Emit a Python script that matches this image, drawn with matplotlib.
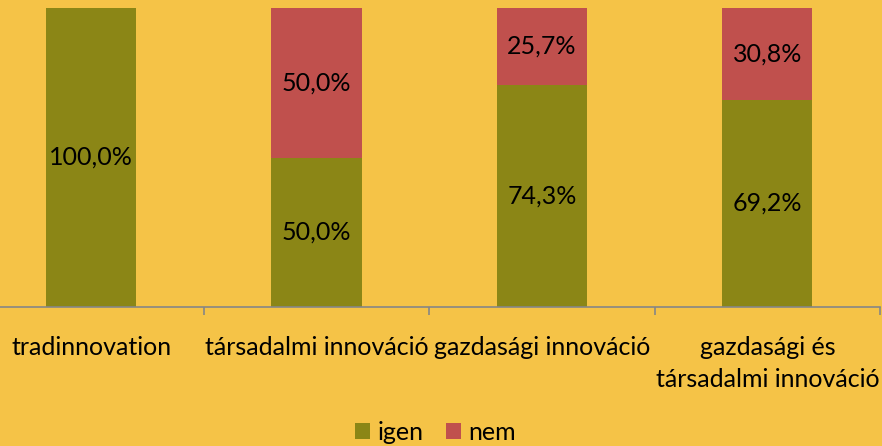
import matplotlib.pyplot as plt

categories = ["tradinnovation", "társadalmi innováció", "gazdasági innováció",
              "gazdasági és\ntársadalmi innováció"]
igen = [100.0, 50.0, 74.3, 69.2]
nem = [0.0, 50.0, 25.7, 30.8]

bg = "#F5C347"
c_igen = "#8B8616"
c_nem = "#C0504D"

plt.rcParams['font.family'] = ['Lato', 'DejaVu Sans']
fs = 18

fig = plt.figure(figsize=(8.82, 4.46), dpi=100, facecolor=bg)
ax = fig.add_axes([-21.5 / 882, (446 - 307) / 446, 901.5 / 882, 299 / 446])
ax.set_facecolor(bg)

x = list(range(len(categories)))
b1 = ax.bar(x, igen, width=0.4, color=c_igen, label="igen")
b2 = ax.bar(x, nem, width=0.4, bottom=igen, color=c_nem, label="nem")

def fmt(v):
    return ("%.1f%%" % v).replace(".", ",")

for i in x:
    ax.text(i, igen[i] / 2, fmt(igen[i]), ha="center", va="center", fontsize=fs)
    if nem[i] > 0:
        ax.text(i, igen[i] + nem[i] / 2, fmt(nem[i]), ha="center", va="center", fontsize=fs)

ax.set_xlim(-0.5, 3.5)
ax.set_ylim(0, 100)
ax.set_yticks([])
for s in ["top", "right", "left"]:
    ax.spines[s].set_visible(False)
ax.spines["bottom"].set_color("#868686")
ax.spines["bottom"].set_linewidth(1.2)

ax.set_xticks(x)
ax.set_xticklabels(categories, fontsize=fs, linespacing=1.45)
ax.tick_params(axis="x", which="major", length=0, pad=21)
ax.set_xticks([0.5, 1.5, 2.5, 3.5], minor=True)
ax.tick_params(axis="x", which="minor", length=6, color="#868686", width=1.2)

fig.legend(handles=[b1, b2], loc="center", bbox_to_anchor=(0.494, 0.03), ncol=2,
           frameon=False, fontsize=fs, handlelength=0.6, handleheight=0.6,
           handletextpad=0.3, columnspacing=0.9)

fig.savefig("out.png", dpi=100, facecolor=bg)
